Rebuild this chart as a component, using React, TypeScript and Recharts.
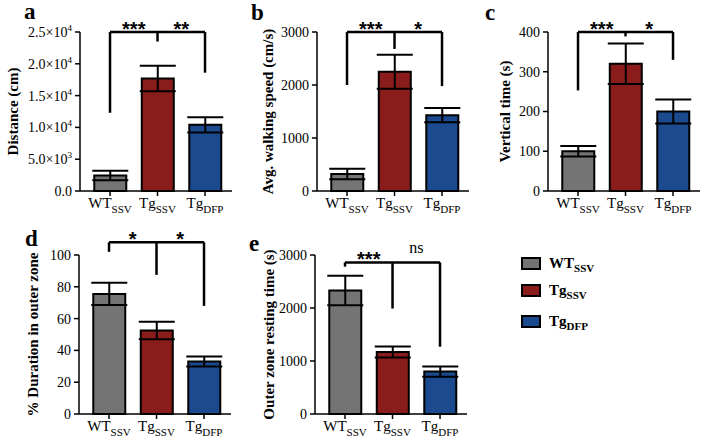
import React from 'react';
import { BarChart, Bar, XAxis, YAxis, ErrorBar, Cell, ReferenceLine, ReferenceDot } from 'recharts';

// ---------- data ----------
const groupMain = ['WT', 'Tg', 'Tg'];
const groupSub = ['SSV', 'SSV', 'DFP'];
const groupColors = ['#747474', '#8b1c1c', '#1b4a8f'];

const distanceMean = [2450, 17700, 10400];
const distanceErr = [750, 2000, 1200];
const speedMean = [320, 2250, 1430];
const speedErr = [100, 320, 135];
const verticalMean = [100, 320, 200];
const verticalErr = [13, 51, 30];
const durationMean = [75.5, 52.5, 33];
const durationErr = [7, 5.5, 3.2];
const restingMean = [2330, 1170, 800];
const restingErr = [280, 105, 95];

const distanceTicks = [0, 5000, 10000, 15000, 20000, 25000];
const distanceTickMain = ['0.0', '5.0×10', '1.0×10', '1.5×10', '2.0×10', '2.5×10'];
const distanceTickExp = ['', '3', '4', '4', '4', '4'];
const speedTicks = [0, 1000, 2000, 3000];
const verticalTicks = [0, 100, 200, 300, 400];
const durationTicks = [0, 20, 40, 60, 80, 100];
const restingTicks = [0, 1000, 2000, 3000];

// significance brackets: top value, leg bottoms [left, middle, right], labels
const distanceBracket = [25000, 12300, 23500, 18600];
const distanceSig = ['***', '**'];
const speedBracket = [3000, 2000, 2680, 1980];
const speedSig = ['***', '*'];
const verticalBracket = [400, 253, 389, 330];
const verticalSig = ['***', '*'];
const durationBracket = [108, 102, 87.5, 68];
const durationSig = ['*', '*'];
const restingBracket = [2860, 2780, 1990, 1270];
const restingSig = ['***', 'ns'];

// ---------- styling ----------
const SERIF = "'Liberation Serif', 'DejaVu Serif', 'Times New Roman', Times, serif";
const SANS = "'Liberation Sans', 'DejaVu Sans', Arial, sans-serif";
const serifStyle = { fontFamily: SERIF };
const sansStyle = { fontFamily: SANS };
const PLOT_W = 152;
const PLOT_H = 159;
const YW = 75;
const TOPM = 32;
const XH = 28;
const RIGHTM = 8;

const XTick = (props: any) => {
  const { x, y, payload } = props;
  const i = payload.value as number;
  return (
    <text x={x} y={y + 10} textAnchor="middle" style={serifStyle} fill="#000">
      <tspan fontSize={15}>{groupMain[i]}</tspan>
      <tspan fontSize={11} dy={5}>{groupSub[i]}</tspan>
    </text>
  );
};

const YTick = (props: any) => {
  const { x, y, payload, mainLabels, expLabels, ticks } = props;
  const v = payload.value;
  let main = String(v);
  let exp = '';
  if (mainLabels) {
    const idx = ticks.indexOf(v);
    main = mainLabels[idx];
    exp = expLabels[idx];
  }
  return (
    <text x={x} y={y} dy="0.35em" textAnchor="end" style={serifStyle} fontSize={14} fill="#000">
      <tspan>{main}</tspan>
      {exp ? (
        <tspan fontSize={9} dy={-6}>
          {exp}
        </tspan>
      ) : null}
    </text>
  );
};

type PanelProps = {
  left: number;
  top: number;
  means: number[];
  errs: number[];
  ticks: number[];
  mainLabels?: string[];
  expLabels?: string[];
  yLabel: string;
  labelOff: number;
  bracket: number[];
  sig: string[];
};

const Panel = (p: PanelProps) => {
  const data = p.means.map((m, i) => ({ x: i, mean: m, err: p.errs[i] }));
  const yMax = p.ticks[p.ticks.length - 1];
  const [bTop, l0, l1, l2] = p.bracket;
  const legs = [l0, l1, l2];
  const lineProps = { stroke: '#000', strokeWidth: 2.5, ifOverflow: 'visible' as const };
  const sigLabel = (text: string) => (lp: any) => {
    const vb = lp.viewBox || {};
    const cx = (vb.x || 0) + (vb.width || 0) / 2;
    const cy = (vb.y || 0) + (vb.height || 0) / 2;
    if (text === 'ns') {
      return (
        <text x={cx} y={cy - 9} textAnchor="middle" style={serifStyle} fontSize={16} fill="#000">
          {text}
        </text>
      );
    }
    return (
      <text x={cx} y={cy + 4} textAnchor="middle" style={sansStyle} fontWeight="bold" fontSize={20} fill="#000">
        {text}
      </text>
    );
  };
  return (
    <div style={{ position: 'absolute', left: p.left - YW, top: p.top - TOPM }}>
      <BarChart
        width={YW + PLOT_W + RIGHTM}
        height={TOPM + PLOT_H + XH}
        data={data}
        margin={{ top: TOPM, right: RIGHTM, bottom: 0, left: 0 }}
      >
        <XAxis
          type="number"
          dataKey="x"
          domain={[-0.632, 2.568]}
          ticks={[0, 1, 2]}
          allowDataOverflow
          interval={0}
          height={XH}
          tickSize={5}
          tickMargin={2}
          axisLine={{ stroke: '#000', strokeWidth: 1.5 }}
          tickLine={{ stroke: '#000', strokeWidth: 1.5 }}
          tick={(tp: any) => <XTick {...tp} />}
        />
        <YAxis
          type="number"
          domain={[0, yMax]}
          ticks={p.ticks}
          interval={0}
          width={YW}
          tickSize={5}
          tickMargin={3}
          axisLine={{ stroke: '#000', strokeWidth: 1.5 }}
          tickLine={{ stroke: '#000', strokeWidth: 1.5 }}
          tick={(tp: any) => (
            <YTick {...tp} mainLabels={p.mainLabels} expLabels={p.expLabels} ticks={p.ticks} />
          )}
          label={(lp: any) => {
            const vb = lp.viewBox || {};
            const cx = vb.x + vb.width - p.labelOff;
            const cy = vb.y + vb.height / 2;
            return (
              <text
                x={cx}
                y={cy}
                dy="0.35em"
                transform={`rotate(-90, ${cx}, ${cy})`}
                textAnchor="middle"
                style={serifStyle}
                fontWeight="bold"
                fontSize={15}
                fill="#000"
              >
                {p.yLabel}
              </text>
            );
          }}
        />
        <Bar dataKey="mean" barSize={32} stroke="#000" strokeWidth={2} isAnimationActive={false}>
          {data.map((_, i) => (
            <Cell key={i} fill={groupColors[i]} />
          ))}
          <ErrorBar dataKey="err" width={18} stroke="#000" strokeWidth={2} direction="y" />
        </Bar>
        <ReferenceLine segment={[{ x: 0, y: bTop }, { x: 2, y: bTop }]} {...lineProps} />
        {legs.map((lb, i) => (
          <ReferenceLine key={i} segment={[{ x: i, y: bTop }, { x: i, y: lb }]} {...lineProps} />
        ))}
        <ReferenceDot x={0.5} y={bTop} r={0} fill="none" stroke="none" ifOverflow="visible" label={sigLabel(p.sig[0])} />
        <ReferenceDot x={1.5} y={bTop} r={0} fill="none" stroke="none" ifOverflow="visible" label={sigLabel(p.sig[1])} />
      </BarChart>
    </div>
  );
};

const letters = [
  { t: 'a', x: 24, y: 19 },
  { t: 'b', x: 251, y: 20 },
  { t: 'c', x: 485, y: 20 },
  { t: 'd', x: 25, y: 246 },
  { t: 'e', x: 249, y: 251 },
];

const legendY = [258, 285, 316];

export default function App() {
  return (
    <div style={{ position: 'absolute', left: 0, top: 0, width: 708, height: 441, background: '#fff', overflow: 'hidden' }}>
      <Panel left={80} top={32} means={distanceMean} errs={distanceErr} ticks={distanceTicks}
        mainLabels={distanceTickMain} expLabels={distanceTickExp} yLabel="Distance (cm)" labelOff={67}
        bracket={distanceBracket} sig={distanceSig} />
      <Panel left={317} top={32} means={speedMean} errs={speedErr} ticks={speedTicks}
        yLabel="Avg. walking speed (cm/s)" labelOff={49} bracket={speedBracket} sig={speedSig} />
      <Panel left={548} top={32} means={verticalMean} errs={verticalErr} ticks={verticalTicks}
        yLabel="Vertical time (s)" labelOff={43} bracket={verticalBracket} sig={verticalSig} />
      <Panel left={79} top={255} means={durationMean} errs={durationErr} ticks={durationTicks}
        yLabel="% Duration in outer zone" labelOff={46} bracket={durationBracket} sig={durationSig} />
      <Panel left={315} top={255} means={restingMean} errs={restingErr} ticks={restingTicks}
        yLabel="Outer zone resting time (s)" labelOff={46} bracket={restingBracket} sig={restingSig} />
      <svg width={708} height={441} style={{ position: 'absolute', left: 0, top: 0, pointerEvents: 'none' }}>
        {letters.map((l) => (
          <text key={l.t} x={l.x} y={l.y} style={serifStyle} fontWeight="bold" fontSize={23} fill="#000">
            {l.t}
          </text>
        ))}
        {groupMain.map((g, i) => (
          <g key={i}>
            <rect x={522} y={legendY[i]} width={18} height={11} fill={groupColors[i]} stroke="#000" strokeWidth={2} />
            <text x={549} y={legendY[i] + 10} style={serifStyle} fontWeight="bold" fontSize={15} fill="#000">
              <tspan>{g}</tspan>
              <tspan fontSize={11} dy={4}>{groupSub[i]}</tspan>
            </text>
          </g>
        ))}
      </svg>
    </div>
  );
}
